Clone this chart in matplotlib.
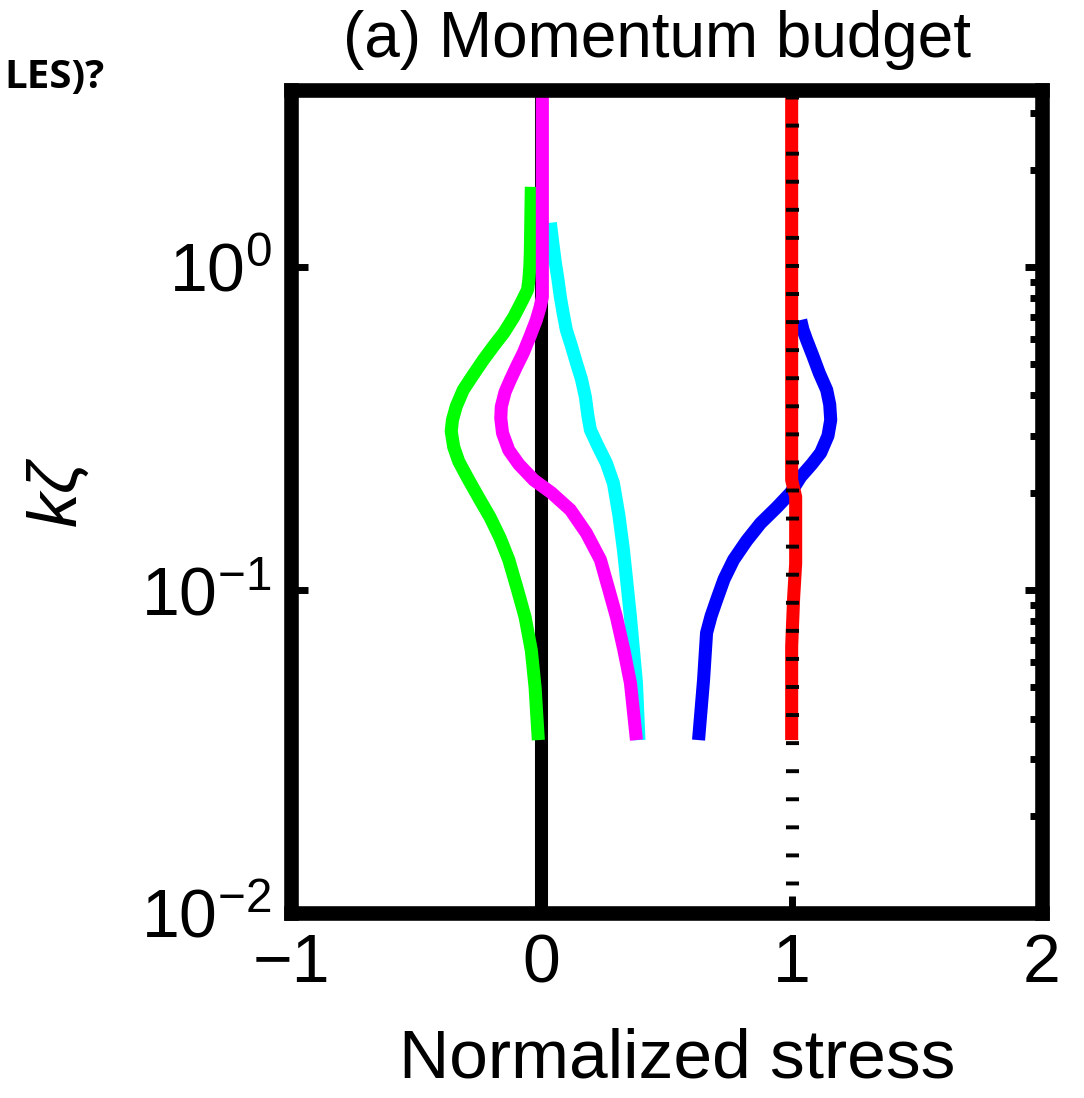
import matplotlib
matplotlib.use("Agg")
import matplotlib.pyplot as plt
import numpy as np

plt.rcParams['font.family'] = ['Liberation Sans', 'DejaVu Sans']
plt.rcParams['mathtext.fontset'] = 'custom'
plt.rcParams['mathtext.rm'] = 'Liberation Sans'
plt.rcParams['mathtext.it'] = 'Liberation Sans:italic'

# data (kz on log axis, normalized stress on x)
kz_green = [0.0343, 0.05, 0.065, 0.0825, 0.1, 0.124, 0.145, 0.168, 0.19, 0.219, 0.25, 0.277,
            0.31, 0.336, 0.37, 0.416, 0.46, 0.515, 0.57, 0.625, 0.70, 0.79, 0.85, 0.91,
            1.0, 1.10, 1.4, 1.77]
x_green = [-0.012, -0.025, -0.04, -0.065, -0.095, -0.13, -0.165, -0.205, -0.245, -0.29, -0.33, -0.35,
           -0.36, -0.355, -0.34, -0.312, -0.275, -0.232, -0.19, -0.15, -0.11, -0.075, -0.055, -0.05,
           -0.046, -0.044, -0.042, -0.04]

kz_cyan = [0.0343, 0.0515, 0.0825, 0.105, 0.133, 0.17, 0.214, 0.247, 0.28, 0.313, 0.35, 0.396,
           0.45, 0.505, 0.57, 0.638, 0.72, 0.807, 0.92, 1.03, 1.2, 1.37]
x_cyan = [0.39, 0.38, 0.356, 0.342, 0.328, 0.31, 0.288, 0.26, 0.225, 0.196, 0.185, 0.176,
          0.16, 0.14, 0.12, 0.10, 0.087, 0.076, 0.066, 0.056, 0.045, 0.036]

kz_magenta = [0.0343, 0.0515, 0.065, 0.0825, 0.1, 0.124, 0.15, 0.177, 0.2, 0.219, 0.245, 0.271,
              0.306, 0.34, 0.369, 0.41, 0.447, 0.49, 0.542, 0.61, 0.685, 0.75, 0.807, 3.53]
x_magenta = [0.38, 0.356, 0.33, 0.30, 0.27, 0.236, 0.18, 0.116, 0.04, -0.03, -0.09, -0.13,
             -0.155, -0.162, -0.16, -0.145, -0.124, -0.1, -0.072, -0.045, -0.02, -0.005, 0.004, 0.004]

kz_blue = [0.0343, 0.0526, 0.0736, 0.083, 0.093, 0.108, 0.124, 0.142, 0.161, 0.18, 0.200, 0.224,
           0.245, 0.266, 0.30, 0.336, 0.375, 0.416, 0.47, 0.53, 0.594, 0.64, 0.685]
x_blue = [0.628, 0.648, 0.66, 0.678, 0.70, 0.73, 0.768, 0.82, 0.876, 0.94, 0.996, 1.036,
          1.08, 1.116, 1.145, 1.156, 1.152, 1.14, 1.11, 1.085, 1.06, 1.045, 1.036]

kz_red = [0.0343, 0.067, 0.095, 0.121, 0.16, 0.194, 0.219, 3.53]
x_red = [1.0, 1.0, 1.008, 1.016, 1.016, 1.016, 1.0, 1.0]

kz_full = [0.01, 3.53]
x_zero = [0, 0]
x_one = [1, 1]

xticks = [-1, 0, 1, 2]

fig = plt.figure(figsize=(10.84, 10.98), dpi=100)
ax = fig.add_axes([291 / 1084, 1 - 913 / 1098, (1042 - 291) / 1084, (913 - 90) / 1098])

lw = 9.4
style = dict(lw=lw, solid_capstyle='butt', solid_joinstyle='round')
ax.plot(x_zero, kz_full, color='black', zorder=2, **style)
ax.plot(x_green, kz_green, color='#00ff00', zorder=3, **style)
ax.plot(x_cyan, kz_cyan, color='#00ffff', zorder=3, **style)
ax.plot(x_magenta, kz_magenta, color='#ff00ff', zorder=4, **style)
ax.plot(x_blue, kz_blue, color='#0000ff', zorder=4, **style)
ax.plot(x_red, kz_red, color='#ff0000', zorder=5, **style)
ax.plot(x_one, kz_full, color='black', lw=lw, linestyle=(0, (0.3, 1.85)),
        dash_capstyle='butt', zorder=6)

ax.set_yscale('log')
ax.set_xlim(-1, 2)
ax.set_ylim(0.01, 3.53)
ax.set_xticks(xticks)
ax.set_yticks([0.01, 0.1, 1])

for s in ax.spines.values():
    s.set_linewidth(10.5)
    s.set_zorder(10)

ax.tick_params(which='major', direction='in', length=12, width=5, labelsize=49,
               top=True, right=True)
ax.tick_params(which='minor', direction='in', length=9, width=5,
               left=False, right=True)
ax.tick_params(axis='x', pad=14)
ax.tick_params(axis='y', pad=14)

fig.text(58 / 1084, 1 - 492 / 1098, r'$k\zeta$', rotation=90, fontsize=50,
         ha='center', va='center')
fig.text(677 / 1084, 1 - 1060 / 1098, 'Normalized stress', fontsize=50,
         ha='center', va='center')
fig.text(657 / 1084, 1 - 40 / 1098, '(a) Momentum budget', fontsize=46,
         ha='center', va='center')
fig.text(105 / 1084, 1 - 88 / 1098, 'LES)?', fontsize=29, fontweight='bold',
         family=['Open Sans', 'DejaVu Sans'], ha='right', va='baseline')

fig.savefig('out.png', dpi=100)
